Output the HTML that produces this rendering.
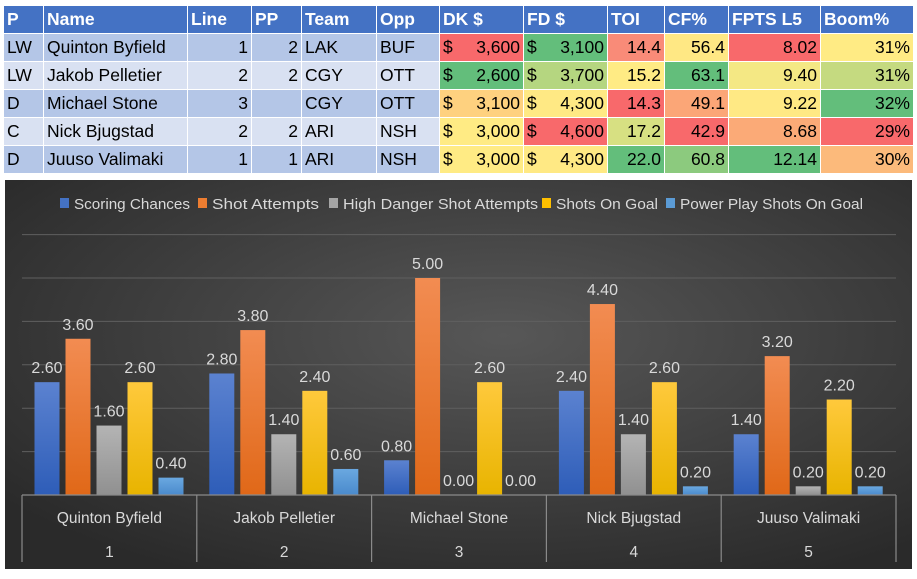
<!DOCTYPE html>
<html><head><meta charset="utf-8">
<style>
body{margin:0;background:#fff;width:917px;height:579px;overflow:hidden;font-family:"Liberation Sans",sans-serif;}
table{position:absolute;left:3px;top:5px;border-collapse:collapse;table-layout:fixed;}
td,th{height:27px;padding:0 3px;font-size:17.5px;border:1px solid #fff;white-space:nowrap;overflow:hidden;}
th{background:#4472C4;color:#fff;text-align:left;font-weight:bold;}
tr.o td.b{background:#B4C6E7;} tr.e td.b{background:#D9E1F2;}
td.r{text-align:right;}
td.m span{float:right;}
</style></head><body>
<table>
<colgroup><col style="width:40px"><col style="width:144px"><col style="width:64px"><col style="width:50px"><col style="width:75px"><col style="width:63px"><col style="width:84px"><col style="width:84px"><col style="width:57px"><col style="width:64px"><col style="width:92px"><col style="width:93px"></colgroup>
<tr><th>P</th><th>Name</th><th>Line</th><th>PP</th><th>Team</th><th>Opp</th><th>DK $</th><th>FD $</th><th>TOI</th><th>CF%</th><th>FPTS L5</th><th>Boom%</th></tr>
<tr class="o"><td class="b">LW</td><td class="b">Quinton Byfield</td><td class="b r">1</td><td class="b r">2</td><td class="b">LAK</td><td class="b">BUF</td><td class="m" style="background:#F8696B">$<span>3,600</span></td><td class="m" style="background:#63BE7B">$<span>3,100</span></td><td class="r" style="background:#F98B78">14.4</td><td class="r" style="background:#FFE884">56.4</td><td class="r" style="background:#F8696B">8.02</td><td class="r" style="background:#FFEB84">31%</td></tr>
<tr class="e"><td class="b">LW</td><td class="b">Jakob Pelletier</td><td class="b r">2</td><td class="b r">2</td><td class="b">CGY</td><td class="b">OTT</td><td class="m" style="background:#63BE7B">$<span>2,600</span></td><td class="m" style="background:#B5D680">$<span>3,700</span></td><td class="r" style="background:#FFEB84">15.2</td><td class="r" style="background:#63BE7B">63.1</td><td class="r" style="background:#F4E884">9.40</td><td class="r" style="background:#C5DA80">31%</td></tr>
<tr class="o"><td class="b">D</td><td class="b">Michael Stone</td><td class="b r">3</td><td class="b r"></td><td class="b">CGY</td><td class="b">OTT</td><td class="m" style="background:#FED17F">$<span>3,100</span></td><td class="m" style="background:#FFE984">$<span>4,300</span></td><td class="r" style="background:#F8696B">14.3</td><td class="r" style="background:#FBA677">49.1</td><td class="r" style="background:#FFE984">9.22</td><td class="r" style="background:#63BE7B">32%</td></tr>
<tr class="e"><td class="b">C</td><td class="b">Nick Bjugstad</td><td class="b r">2</td><td class="b r">2</td><td class="b">ARI</td><td class="b">NSH</td><td class="m" style="background:#FFEB84">$<span>3,000</span></td><td class="m" style="background:#F8696B">$<span>4,600</span></td><td class="r" style="background:#D7E082">17.2</td><td class="r" style="background:#F8696B">42.9</td><td class="r" style="background:#FBAA77">8.68</td><td class="r" style="background:#F8696B">29%</td></tr>
<tr class="o"><td class="b">D</td><td class="b">Juuso Valimaki</td><td class="b r">1</td><td class="b r">1</td><td class="b">ARI</td><td class="b">NSH</td><td class="m" style="background:#FFEB84">$<span>3,000</span></td><td class="m" style="background:#FFE984">$<span>4,300</span></td><td class="r" style="background:#63BE7B">22.0</td><td class="r" style="background:#8CCA7E">60.8</td><td class="r" style="background:#63BE7B">12.14</td><td class="r" style="background:#FCBA7B">30%</td></tr>
</table>
<svg id="chart" width="917" height="579" style="position:absolute;left:0;top:0">
<defs>
<radialGradient id="bg" cx="55%" cy="40%" r="70%"><stop offset="0" stop-color="#575757"/><stop offset="1" stop-color="#2a2a2a"/></radialGradient>
<linearGradient id="g0" x1="0" y1="0" x2="0" y2="1"><stop offset="0" stop-color="#5B82D0"/><stop offset="1" stop-color="#2E5DB8"/></linearGradient>
<linearGradient id="g1" x1="0" y1="0" x2="0" y2="1"><stop offset="0" stop-color="#F28C52"/><stop offset="1" stop-color="#E06818"/></linearGradient>
<linearGradient id="g2" x1="0" y1="0" x2="0" y2="1"><stop offset="0" stop-color="#B4B4B4"/><stop offset="1" stop-color="#909090"/></linearGradient>
<linearGradient id="g3" x1="0" y1="0" x2="0" y2="1"><stop offset="0" stop-color="#FFC93C"/><stop offset="1" stop-color="#E8B400"/></linearGradient>
<linearGradient id="g4" x1="0" y1="0" x2="0" y2="1"><stop offset="0" stop-color="#6AA8E0"/><stop offset="1" stop-color="#4A8ACC"/></linearGradient>
</defs>
<rect x="5" y="180" width="907" height="389" fill="url(#bg)"/>
<g id="plot"></g>
</svg>
<script>
const categories=["Quinton Byfield","Jakob Pelletier","Michael Stone","Nick Bjugstad","Juuso Valimaki"];
const catNumbers=["1","2","3","4","5"];
const seriesNames=["Scoring Chances","Shot Attempts","High Danger Shot Attempts","Shots On Goal","Power Play Shots On Goal"];
const scoringChances=[2.6,2.8,0.8,2.4,1.4];
const shotAttempts=[3.6,3.8,5.0,4.4,3.2];
const highDanger=[1.6,1.4,0.0,1.4,0.2];
const shotsOnGoal=[2.6,2.4,2.6,2.6,2.2];
const ppShotsOnGoal=[0.4,0.6,0.0,0.2,0.2];
const gridTicks=[1,2,3,4,5,6];
const series=[scoringChances,shotAttempts,highDanger,shotsOnGoal,ppShotsOnGoal];
const NS="http://www.w3.org/2000/svg";
const g=document.getElementById('plot');
const X0=22,X1=896,BASE=495,PPU=43.4;
const y=v=>BASE-v*PPU;
const gw=(X1-X0)/categories.length;
function el(t,a,txt){const e=document.createElementNS(NS,t);for(const k in a)e.setAttribute(k,a[k]);if(txt!=null)e.textContent=txt;g.appendChild(e);return e;}
gridTicks.forEach(t=>{const l=el('line',{x1:X0,x2:X1,y1:y(t),y2:y(t),stroke:'#5f5f5f','stroke-width':1});

});
series.forEach((s,si)=>{s.forEach((v,ci)=>{
const x=X0+ci*gw+12.5+si*31;
const r=el('rect',{x:x,y:y(v),width:25,height:v*PPU,fill:'url(#g'+si+')'});


const t=el('text',{x:x+12.5,y:y(v)-9,'text-anchor':'middle','font-size':16,fill:'#d9d9d9'},v.toFixed(2));


});});
el('line',{x1:X0,x2:X1,y1:BASE,y2:BASE,stroke:'#8a8a8a','stroke-width':1.2});
categories.forEach((c,i)=>{
const cx=X0+i*gw+gw/2;
const t=el('text',{x:cx,y:523,'text-anchor':'middle','font-size':15.5,fill:'#d9d9d9'},c);


const n=el('text',{x:cx,y:557,'text-anchor':'middle','font-size':15.5,fill:'#d9d9d9'},catNumbers[i]);


});
for(let i=0;i<=categories.length;i++){const x=X0+i*gw;el('line',{x1:x,x2:x,y1:BASE,y2:562,stroke:'#8a8a8a','stroke-width':1.2});}
const cols=['#4472C4','#ED7D31','#A5A5A5','#FFC000','#5B9BD5'];
const lx=[60,198,329,542,666];
const lw=[116,107,195,102,183];
seriesNames.forEach((n,i)=>{
const r=el('rect',{x:lx[i],y:198,width:9,height:10,fill:cols[i]});


const t=el('text',{x:lx[i]+14,y:209,'font-size':15,fill:'#d9d9d9',textLength:lw[i],lengthAdjust:'spacingAndGlyphs'},n);


});
</script>
</body></html>
